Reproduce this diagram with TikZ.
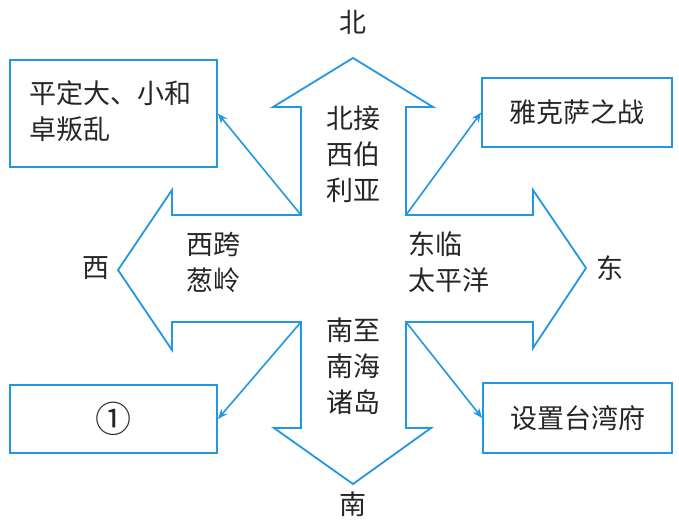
\documentclass[tikz,border=0pt]{standalone}
\usepackage{fontspec}
\newfontfamily\cjk{Noto Sans CJK SC}
\usetikzlibrary{arrows.meta}
\definecolor{lineblue}{RGB}{35,150,225}
\tikzset{
  outline/.style={draw=lineblue, line width=1.8pt, line join=miter},
  box/.style={draw=lineblue, line width=1.8pt, inner sep=0pt},
  lbl/.style={font=\cjk\fontsize{27}{36}\selectfont, text=black!85, inner sep=0pt, align=center},
  conn/.style={draw=lineblue, line width=1.6pt, -{Stealth[length=10pt,width=8pt]}},
}
\begin{document}
\begin{tikzpicture}[x=1pt,y=-1pt]
\useasboundingbox (0,0) rectangle (679,524);
% cross-shaped four-way arrow
\coordinate (ctl) at (301,215);
\coordinate (ctr) at (406,215);
\coordinate (cbl) at (301,322);
\coordinate (cbr) at (406,322);
\draw[outline] (ctl) -- (301,107) -- (273,107) -- (353,58) -- (433,107) -- (406,107) -- (ctr)
  -- (533,215) -- (533,190) -- (586,268) -- (533,348) -- (533,322) -- (cbr)
  -- (406,428) -- (431,428) -- (353,484) -- (274,428) -- (301,428) -- (cbl)
  -- (172,322) -- (172,350) -- (118,270) -- (172,190) -- (172,215) -- cycle;
% boxes
\node[box, minimum width=207pt, minimum height=107pt] (tl) at (113.5,113.5) {};
\node[lbl, anchor=north west, align=left] (tltext) at (29,80) {平定大、小和\\卓叛乱};
\node[box, minimum width=190pt, minimum height=69pt, lbl] (tr) at (577,112.5) {雅克萨之战};
\node[box, minimum width=207pt, minimum height=68pt, lbl] (bl) at (113.5,419) {\fontsize{36}{36}\selectfont ①};
\node[box, minimum width=189pt, minimum height=70pt, lbl] (br) at (577.5,418) {设置台湾府};
% connectors
\draw[conn] (ctl) -- (tl.east);
\draw[conn] (ctr) -- (tr.west);
\draw[conn] (cbl) -- (bl.east);
\draw[conn] (cbr) -- (br.west);
% direction labels
\node[lbl] (n) at (353,22) {北};
\node[lbl] (s) at (353,504) {南};
\node[lbl] (w) at (96,268) {西};
\node[lbl] (e) at (610,268) {东};
% inner labels
\node[lbl] (ntext) at (353,154) {北接\\西伯\\利亚};
\node[lbl, align=left, anchor=west] (wtext) at (186,262) {西跨\\葱岭};
\node[lbl, align=left, anchor=west] (etext) at (408,262) {东临\\太平洋};
\node[lbl] (stext) at (353,366) {南至\\南海\\诸岛};
\end{tikzpicture}
\end{document}
